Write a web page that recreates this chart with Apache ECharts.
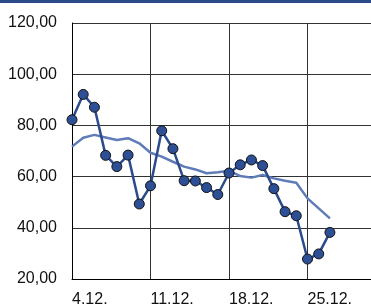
<!DOCTYPE html>
<html>
<head>
<meta charset="utf-8">
<script src="https://cdn.jsdelivr.net/npm/echarts@6/dist/echarts.min.js"></script>
<style>
  html, body { margin: 0; padding: 0; background: #fff; }
  #chart { width: 371px; height: 307px; }
</style>
</head>
<body>
<div id="chart"></div>
<script>
// days 4.12. .. 1.1.
var days = ['4.12.', '5.12.', '6.12.', '7.12.', '8.12.', '9.12.', '10.12.',
    '11.12.', '12.12.', '13.12.', '14.12.', '15.12.', '16.12.', '17.12.',
    '18.12.', '19.12.', '20.12.', '21.12.', '22.12.', '23.12.', '24.12.',
    '25.12.', '26.12.', '27.12.', '28.12.', '29.12.', '30.12.', '31.12.', '1.1.'];
var daily = [82.2, 92.1, 87.1, 68.3, 63.9, 68.4, 49.3, 56.4, 77.9, 70.9, 58.4, 58.3,
    55.7, 53.0, 61.4, 64.6, 66.5, 64.3, 55.3, 46.3, 44.7, 27.8, 29.8, 38.2];
var trend = [71.7, 75.2, 76.3, 75.3, 74.3, 75.0, 73.0, 69.3, 67.8, 65.8, 63.9, 62.8,
    61.3, 61.7, 62.3, 60.2, 59.6, 60.6, 59.3, 58.4, 57.6, 51.5, 47.6, 43.7];
var yTicks = [20, 120, 20]; // min, max, step

var font = '"Liberation Sans", Arial, sans-serif';

var chart = echarts.init(document.getElementById('chart'));
chart.setOption({
    animation: false,
    graphic: [{
        type: 'rect',
        shape: { x: 0, y: 0, width: 371, height: 3 },
        style: { fill: '#2b4a8a' }
    }],
    grid: { left: 72, right: -15, top: 23, bottom: 28, outerBoundsMode: 'none', containLabel: false },
    xAxis: {
        type: 'category',
        data: days,
        boundaryGap: false,
        axisLine: { lineStyle: { color: '#000', width: 1 } },
        axisTick: { show: false },
        axisLabel: {
            interval: 6,
            align: 'left',
            margin: 13,
            fontSize: 16,
            fontFamily: font,
            color: '#111'
        },
        splitLine: { show: true, interval: 6, lineStyle: { color: '#333', width: 1 } }
    },
    yAxis: {
        type: 'value',
        min: yTicks[0],
        max: yTicks[1],
        interval: yTicks[2],
        axisLine: { show: true, lineStyle: { color: '#000', width: 1 } },
        axisTick: { show: false },
        axisLabel: {
            margin: 15,
            fontSize: 16,
            fontFamily: font,
            color: '#111',
            formatter: function (v) { return v.toFixed(2).replace('.', ','); }
        },
        splitLine: { lineStyle: { color: '#333', width: 1 } }
    },
    series: [
        {
            name: 'trend',
            type: 'line',
            data: trend,
            showSymbol: false,
            symbol: 'none',
            lineStyle: { color: '#5f7bb8', width: 2.5 },
            z: 2
        },
        {
            name: 'daily',
            type: 'line',
            data: daily,
            symbol: 'circle',
            symbolSize: 10,
            showAllSymbol: true,
            lineStyle: { color: '#2b4b8c', width: 2.5 },
            itemStyle: { color: '#2d4f95', borderColor: '#111', borderWidth: 1 },
            z: 3
        }
    ]
});
</script>
</body>
</html>
